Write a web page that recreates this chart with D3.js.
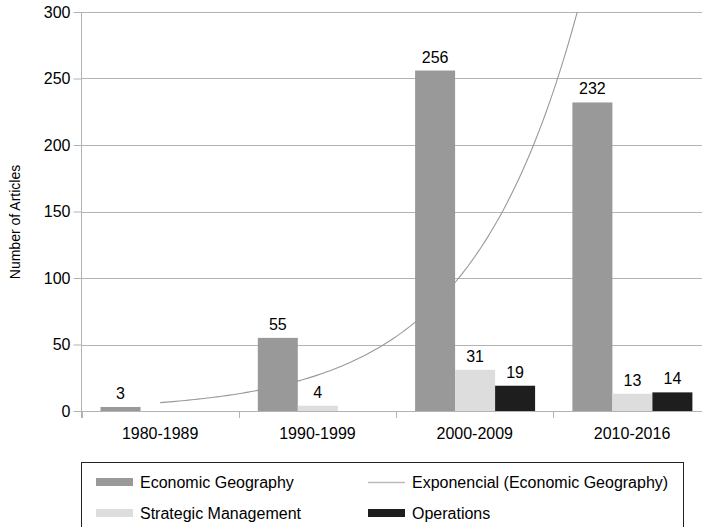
<!DOCTYPE html>
<html>
<head>
<meta charset="utf-8">
<script src="https://cdn.jsdelivr.net/npm/d3@7"></script>
<style>
  html, body { margin: 0; padding: 0; background: #fff; }
  svg { display: block; font-family: "Liberation Sans", Arial, sans-serif; }
</style>
</head>
<body>
<div id="app"></div>
<script>
// chart values
var periods = ["1980-1989", "1990-1999", "2000-2009", "2010-2016"];
var seriesNames = ["Economic Geography", "Strategic Management", "Operations"];
var economicGeography = [3, 55, 256, 232];
var strategicManagement = [null, 4, 31, 13];
var operations = [null, null, 19, 14];
var yTicks = [0, 50, 100, 150, 200, 250, 300];
var trendName = "Exponencial (Economic Geography)";

var seriesValues = [economicGeography, strategicManagement, operations];
var colors = ["#999999", "#dddddd", "#1e1e1e"];

var width = 702, height = 527;

var svg = d3.select("#app").append("svg")
  .attr("width", width)
  .attr("height", height);

var x = d3.scaleBand().domain(periods).range([81.5, 710.7]).padding(0);
var xInner = d3.scaleBand().domain(seriesNames).range([19, 139]);
var y = d3.scaleLinear().domain([0, 300]).range([411, 12]);

// gridlines
svg.append("g")
  .selectAll("line")
  .data(yTicks)
  .enter().append("line")
  .attr("x1", 81.5)
  .attr("x2", width)
  .attr("y1", d => Math.round(y(d)) + 0.5)
  .attr("y2", d => Math.round(y(d)) + 0.5)
  .attr("stroke", "#b3b3b3")
  .attr("stroke-width", 1);

// y axis
var yAxis = svg.append("g")
  .attr("transform", "translate(81.5,0)")
  .call(d3.axisLeft(y).tickValues(yTicks).tickSize(8).tickPadding(3));
yAxis.select(".domain").remove();
yAxis.selectAll(".tick line").attr("stroke", "#b3b3b3");
yAxis.selectAll(".tick text")
  .attr("fill", "#000")
  .style("font-size", "16px")
  .style("font-family", "Liberation Sans, Arial, sans-serif");
svg.append("line")
  .attr("x1", 81.5).attr("x2", 81.5)
  .attr("y1", 12).attr("y2", 418)
  .attr("stroke", "#b3b3b3");

// x axis ticks on band edges
var edges = periods.map(d => x(d)).concat([x(periods[periods.length - 1]) + x.bandwidth()]);
svg.append("g")
  .selectAll("line")
  .data(edges)
  .enter().append("line")
  .attr("x1", d => Math.round(d) + 0.5)
  .attr("x2", d => Math.round(d) + 0.5)
  .attr("y1", 411)
  .attr("y2", 418)
  .attr("stroke", "#b3b3b3");

svg.append("g")
  .selectAll("text")
  .data(periods)
  .enter().append("text")
  .attr("x", d => x(d) + x.bandwidth() / 2)
  .attr("y", 439)
  .attr("text-anchor", "middle")
  .style("font-size", "16px")
  .text(d => d);

// y axis title
svg.append("text")
  .attr("transform", "translate(20,222) rotate(-90)")
  .attr("text-anchor", "middle")
  .style("font-size", "14px")
  .text("Number of Articles");

// bars
var barData = [];
seriesNames.forEach(function (s, i) {
  periods.forEach(function (p, j) {
    if (seriesValues[i][j] != null) {
      barData.push({ series: s, period: p, value: seriesValues[i][j], color: colors[i] });
    }
  });
});

svg.append("g")
  .selectAll("rect")
  .data(barData)
  .enter().append("rect")
  .attr("x", d => x(d.period) + xInner(d.series))
  .attr("width", xInner.bandwidth())
  .attr("y", d => y(d.value))
  .attr("height", d => y(0) - y(d.value))
  .attr("fill", d => d.color);

svg.append("g")
  .selectAll("text")
  .data(barData)
  .enter().append("text")
  .attr("x", d => x(d.period) + xInner(d.series) + xInner.bandwidth() / 2)
  .attr("y", d => y(d.value) - 8)
  .attr("text-anchor", "middle")
  .style("font-size", "16px")
  .text(d => d.value);

// exponential trendline fitted to Economic Geography (least squares on ln)
var xs = economicGeography.map((d, i) => i + 1);
var ls = economicGeography.map(d => Math.log(d));
var mx = d3.mean(xs), ml = d3.mean(ls);
var b = d3.sum(xs, (v, i) => (v - mx) * (ls[i] - ml)) / d3.sum(xs, v => (v - mx) * (v - mx));
var a = Math.exp(ml - b * mx);
var trendPts = d3.range(1, 4.0001, 0.02).map(t => [t, a * Math.exp(b * t)]);
var xPos = t => x(periods[0]) + x.bandwidth() / 2 + (t - 1) * x.step();

svg.append("clipPath").attr("id", "plotclip")
  .append("rect").attr("x", 81.5).attr("y", 12).attr("width", 640).attr("height", 400);

svg.append("path")
  .datum(trendPts)
  .attr("clip-path", "url(#plotclip)")
  .attr("fill", "none")
  .attr("stroke", "#999999")
  .attr("stroke-width", 1.1)
  .attr("d", d3.line().x(d => xPos(d[0])).y(d => y(d[1])));

// legend
var legend = svg.append("g");
legend.append("rect")
  .attr("x", 81.5).attr("y", 462.5)
  .attr("width", 602).attr("height", 80)
  .attr("fill", "#fff")
  .attr("stroke", "#222")
  .attr("stroke-width", 1);

var legendItems = [
  { name: seriesNames[0], type: "rect", color: colors[0], lx: 96, ly: 482 },
  { name: trendName, type: "line", color: "#bbbbbb", lx: 368, ly: 482 },
  { name: seriesNames[1], type: "rect", color: colors[1], lx: 96, ly: 513 },
  { name: seriesNames[2], type: "rect", color: colors[2], lx: 368, ly: 513 }
];

legendItems.forEach(function (it) {
  if (it.type === "rect") {
    legend.append("rect")
      .attr("x", it.lx).attr("y", it.ly - 4)
      .attr("width", 37).attr("height", 8)
      .attr("fill", it.color);
  } else {
    legend.append("line")
      .attr("x1", it.lx).attr("x2", it.lx + 37)
      .attr("y1", it.ly + 0.5).attr("y2", it.ly + 0.5)
      .attr("stroke", it.color).attr("stroke-width", 1.5);
  }
  legend.append("text")
    .attr("x", it.lx + 44)
    .attr("y", it.ly + 6)
    .style("font-size", "16px")
    .text(it.name);
});
</script>
</body>
</html>
